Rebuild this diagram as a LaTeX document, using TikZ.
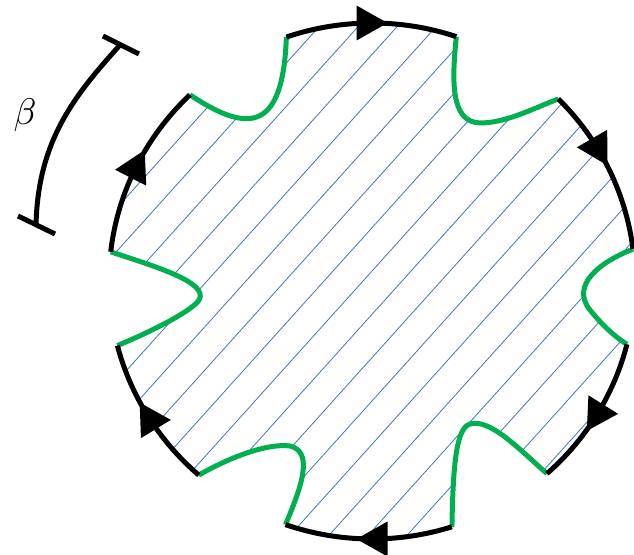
\documentclass[tikz,border=0pt]{standalone}
\usepackage{graphicx}
\usetikzlibrary{calc}
\definecolor{hatchblue}{HTML}{4472C4}
\definecolor{bumpgreen}{HTML}{00B050}
\begin{document}
\begin{tikzpicture}[x=1pt,y=1pt,
  rim/.style={line width=5pt, black},
  bump/.style={line width=5pt, bumpgreen},
  hatchline/.style={line width=0.8pt, hatchblue},
  tipfill/.style={fill=black},
  ell/.style={x radius=263pt, y radius=258pt}]
\useasboundingbox (0,0) rectangle (634,554);
\coordinate (c) at (372,273);
\path (c) ++(109:263pt and 258pt) coordinate (a1s);
\path (c) ++(71.3:263pt and 258pt) coordinate (a1e);
\path (c) ++(44.9:263pt and 258pt) coordinate (a2s);
\path (c) ++(7.1:263pt and 258pt) coordinate (a2e);
\path (c) ++(-14.2:263pt and 258pt) coordinate (a3s);
\path (c) ++(-48.3:263pt and 258pt) coordinate (a3e);
\path (c) ++(-72.3:263pt and 258pt) coordinate (a4s);
\path (c) ++(-109.2:263pt and 258pt) coordinate (a4e);
\path (c) ++(-131.2:263pt and 258pt) coordinate (a5s);
\path (c) ++(-165.5:263pt and 258pt) coordinate (a5e);
\path (c) ++(173.5:263pt and 258pt) coordinate (a6s);
\path (c) ++(133.8:263pt and 258pt) coordinate (a6e);
% hatched region
\begin{scope}
\clip (a1s) arc[start angle=109,end angle=71.3,ell]
  .. controls (452,474) and (450,432) .. (480,431) .. controls (505,431) and (530,444) .. (a2s)
  arc[start angle=44.9,end angle=7.1,ell]
  .. controls (600,292) and (570,269) .. (590,244) .. controls (606,224) and (620,214) .. (a3s)
  arc[start angle=-14.2,end angle=-48.3,ell]
  .. controls (520,104) and (490,136) .. (470,130) .. controls (457,126) and (453,94) .. (a4s)
  arc[start angle=-72.3,end angle=-109.2,ell]
  .. controls (300,64) and (315,102) .. (290,108) .. controls (268,111) and (230,97) .. (a5s)
  arc[start angle=-131.2,end angle=-165.5,ell]
  .. controls (155,224) and (193,244) .. (199,254) .. controls (210,272) and (150,289) .. (a6s)
  arc[start angle=173.5,end angle=133.8,ell]
  .. controls (250,419) and (283,424) .. (a1s) -- cycle;
\foreach \i in {-16,...,26} \draw[hatchline] (247+\i*39,404) ++(228:700) -- ++(48:1400);
\end{scope}
% green bumps
\draw[bump] (a1e) .. controls (452,474) and (450,432) .. (480,431) .. controls (505,431) and (530,444) .. (a2s);
\draw[bump] (a2e) .. controls (600,292) and (570,269) .. (590,244) .. controls (606,224) and (620,214) .. (a3s);
\draw[bump] (a3e) .. controls (520,104) and (490,136) .. (470,130) .. controls (457,126) and (453,94) .. (a4s);
\draw[bump] (a4e) .. controls (300,64) and (315,102) .. (290,108) .. controls (268,111) and (230,97) .. (a5s);
\draw[bump] (a5e) .. controls (155,224) and (193,244) .. (199,254) .. controls (210,272) and (150,289) .. (a6s);
\draw[bump] (a6e) .. controls (250,419) and (283,424) .. (a1s);
% black arcs
\draw[rim] (a1s) arc[start angle=109,end angle=71.3,ell];
\draw[rim] (a2s) arc[start angle=44.9,end angle=7.1,ell];
\draw[rim] (a3s) arc[start angle=-14.2,end angle=-48.3,ell];
\draw[rim] (a4s) arc[start angle=-72.3,end angle=-109.2,ell];
\draw[rim] (a5s) arc[start angle=-131.2,end angle=-165.5,ell];
\draw[rim] (a6s) arc[start angle=173.5,end angle=133.8,ell];
% arrowheads
\foreach \t in {90,30,-32,-90,211.5,153} {
  \path (c) ++(\t:263pt and 258pt) coordinate (m);
  \fill[tipfill, shift={(m)}, rotate=\t-90] (15.5,0) -- (-15.5,17.5) -- (-15.5,-17.5) -- cycle;
}
% beta marker
\draw[rim] (120,509) .. controls (75,459) and (38,414) .. (36,329);
\draw[rim] (103,518) -- (139,500);
\draw[rim] (18,338) -- (55,320);
\node (beta) at (25,439) {\scalebox{3.7}{$\beta$}};
\end{tikzpicture}
\end{document}
